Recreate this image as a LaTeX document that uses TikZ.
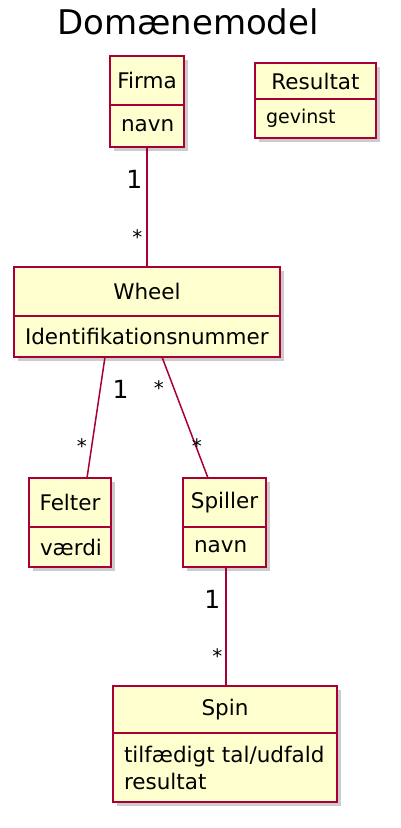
\documentclass[tikz,border=0pt]{standalone}
\usepackage{fontspec}
\setmainfont{DejaVu Sans}
\usetikzlibrary{shadows}
\definecolor{umlfill}{HTML}{FEFECE}
\definecolor{umlline}{HTML}{A80036}
\tikzset{
  classhead/.style={draw=umlline, fill=umlfill, line width=2.5pt, inner sep=0pt,
    outer sep=0pt, anchor=north west, font=\fontsize{21.5}{25}\selectfont,
    drop shadow={shadow xshift=4pt, shadow yshift=-4pt, fill=black!40}},
  classbody/.style={classhead, inner xsep=11pt, align=left,
    font=\fontsize{21.5}{27}\selectfont},
  assoc/.style={draw=umlline, line width=1.5pt},
  mult/.style={inner sep=0pt, font=\fontsize{25}{25}\selectfont},
  multstar/.style={mult, font=\fontsize{20}{20}\selectfont}
}
\begin{document}
\begin{tikzpicture}[x=1pt,y=1pt]
  \useasboundingbox (0,0) rectangle (401,-828);
  \node[anchor=base, font=\fontsize{34}{34}\selectfont] (title) at (188,-34) {Domænemodel};
  % classes
  \node[classhead, minimum width=74pt, minimum height=49pt] (firma) at (110,-56) {Firma};
  \node[classbody, text width=52pt, minimum height=42pt] (firma attr) at (firma.south west) {navn};
  \node[classhead, minimum width=121pt, minimum height=36pt] (resultat) at (255,-63) {Resultat};
  \node[classbody, text width=99pt, minimum height=39pt, font=\fontsize{19}{23}\selectfont]
    (resultat attr) at (resultat.south west) {gevinst};
  \node[classhead, minimum width=266pt, minimum height=49pt] (wheel) at (14,-267) {Wheel};
  \node[classbody, text width=244pt, minimum height=41pt] (wheel attr) at (wheel.south west) {Identifikationsnummer};
  \node[classhead, minimum width=82pt, minimum height=49pt] (felter) at (29,-478) {Felter};
  \node[classbody, text width=60pt, minimum height=40pt] (felter attr) at (felter.south west) {værdi};
  \node[classhead, minimum width=83pt, minimum height=49pt] (spiller) at (183,-478) {Spiller};
  \node[classbody, text width=61pt, minimum height=40pt] (spiller attr) at (spiller.south west) {navn};
  \node[classhead, minimum width=224pt, minimum height=47pt] (spin) at (113,-686) {Spin};
  \node[classbody, text width=202pt, minimum height=69pt] (spin attr) at (spin.south west)
    {tilfædigt tal/udfald\\resultat};
  % associations
  \draw[assoc] (firma attr.south) -- (wheel.north)
    node[mult, pos=0.342, anchor=base east, xshift=-4pt] (m1) {1}
    node[multstar, pos=0.81, anchor=base east, xshift=-4pt] (m2) {*};
  \draw[assoc] ([xshift=-42pt]wheel attr.south) -- ([xshift=17pt]felter.north)
    node[mult, pos=0.34, anchor=base west, xshift=13pt] (m3) {1}
    node[multstar, pos=0.8, anchor=base east, xshift=-3pt] (m4) {*};
  \draw[assoc] ([xshift=15pt]wheel attr.south) -- ([xshift=-16.5pt]spiller.north)
    node[multstar, pos=0.32, anchor=base east, xshift=-12pt] (m5) {*}
    node[multstar, pos=0.8, anchor=base, xshift=-2pt] (m6) {*};
  \draw[assoc] ([xshift=1.5pt]spiller attr.south) -- ([xshift=1pt]spin.north)
    node[mult, pos=0.345, anchor=base east, xshift=-5pt] (m7) {1}
    node[multstar, pos=0.815, anchor=base east, xshift=-3pt] (m8) {*};
\end{tikzpicture}
\end{document}
